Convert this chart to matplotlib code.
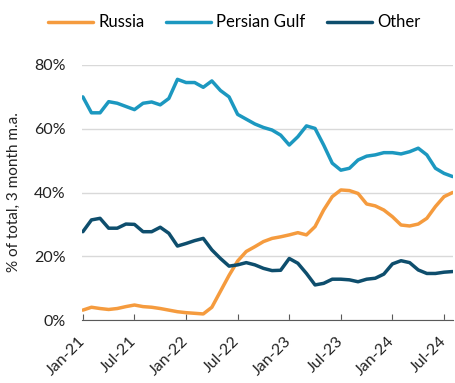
import numpy as np
import matplotlib.pyplot as plt
from matplotlib.transforms import ScaledTranslation

plt.rcParams['font.family'] = ['Lato', 'DejaVu Sans']

# monthly shares, Jan-21 .. Aug-24 (% of total, 3 month m.a.)
russia = [3.1, 4.0, 3.6, 3.3, 3.6, 4.2, 4.7, 4.2, 4.0, 3.6, 3.1, 2.6, 2.3, 2.1, 1.9, 4.0,
          9.0, 14.0, 18.5, 21.5, 23.0, 24.6, 25.6, 26.1, 26.7, 27.4, 26.7, 29.3, 34.5, 38.7,
          40.8, 40.6, 39.7, 36.4, 35.8, 34.5, 32.4, 29.8, 29.5, 30.1, 31.9, 35.6, 38.7, 40.0]
persian_gulf = [70.0, 65.0, 65.0, 68.5, 68.0, 67.0, 66.0, 68.0, 68.4, 67.5, 69.5, 75.5, 74.5, 74.5,
                73.0, 75.0, 72.0, 70.0, 64.5, 63.0, 61.5, 60.4, 59.6, 58.0, 54.9, 57.5, 60.9, 60.1,
                54.9, 49.2, 47.0, 47.6, 50.2, 51.4, 51.8, 52.5, 52.5, 52.1, 52.8, 53.9, 51.8, 47.6,
                46.0, 45.0]
other = [27.7, 31.4, 31.9, 28.8, 28.8, 30.1, 30.0, 27.7, 27.7, 29.1, 27.2, 23.2, 24.0, 24.9,
         25.6, 22.0, 19.3, 16.9, 17.3, 18.0, 17.3, 16.2, 15.5, 15.6, 19.3, 17.8, 14.6, 11.0,
         11.5, 12.8, 12.8, 12.6, 12.0, 12.8, 13.1, 14.4, 17.6, 18.6, 18.0, 15.7, 14.6, 14.6,
         15.0, 15.2]
tick_labels = ['Jan-21', 'Jul-21', 'Jan-22', 'Jul-22', 'Jan-23', 'Jul-23', 'Jan-24', 'Jul-24']

months = np.arange(len(russia))

fig = plt.figure(figsize=(4.56, 3.83), dpi=100)
ax = fig.add_axes([82 / 456, 1 - 320 / 383, 371.5 / 456, 255 / 383])

ax.plot(months, russia, color='#F59B3E', lw=2.5, label='Russia', solid_capstyle='round')
ax.plot(months, persian_gulf, color='#1C98C0', lw=2.5, label='Persian Gulf', solid_capstyle='round')
ax.plot(months, other, color='#0E4E6D', lw=2.5, label='Other', solid_capstyle='round')

ax.set_xlim(-0.1, 43.1)
ax.set_ylim(0, 80)
ax.set_yticks([0, 20, 40, 60, 80])
ax.set_yticklabels(['0%', '20%', '40%', '60%', '80%'])
ax.set_xticks(np.arange(0, 43, 6))
ax.set_xticklabels(tick_labels, rotation=45, ha='right', va='center', rotation_mode='anchor')
# nudge the rotated labels a little right/down, like the original
offset = ScaledTranslation(4 / 72, -4 / 72, fig.dpi_scale_trans)
for lbl in ax.get_xticklabels():
    lbl.set_transform(lbl.get_transform() + offset)

ax.grid(axis='y', color='#D9D9D9', lw=1)
ax.set_axisbelow(True)
for s in ['top', 'right', 'left']:
    ax.spines[s].set_visible(False)
ax.spines['bottom'].set_color('#595959')
ax.tick_params(axis='y', length=0, labelsize=11.5, colors='#222222', pad=12)
ax.tick_params(axis='x', length=4, direction='in', color='#595959', labelsize=11.5,
               colors='#222222', pad=14)

ax.set_ylabel('% of total, 3 month m.a.', fontsize=11, color='#222222', labelpad=9)

ax.legend(loc='center', bbox_to_anchor=(0.41, 1.167), ncol=3, frameon=False,
          fontsize=12, handlelength=2.7, handletextpad=0.3, columnspacing=1.3)

fig.savefig('out.png', dpi=100)
